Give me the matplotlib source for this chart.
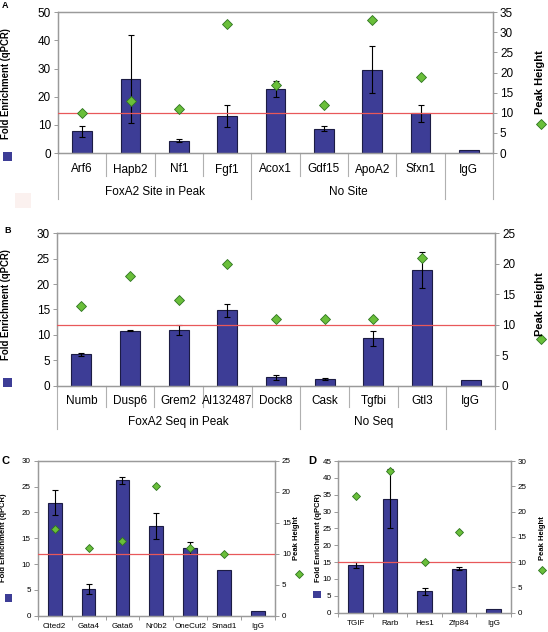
import numpy as np
import matplotlib
matplotlib.use('Agg')
import matplotlib.pyplot as plt
from matplotlib.lines import Line2D
from matplotlib.patches import Rectangle
import matplotlib.transforms as mtransforms

plt.rcParams['font.family'] = ['Liberation Sans', 'DejaVu Sans']

# Painel A
genes_a = ['Arf6', 'Hapb2', 'Nf1', 'Fgf1', 'Acox1', 'Gdf15', 'ApoA2', 'Sfxn1', 'IgG']
fold_a = [7.7, 26.2, 4.4, 13.2, 22.8, 8.7, 29.6, 14.1, 1.0]
err_a = [1.9, 15.6, 0.4, 3.9, 2.9, 0.9, 8.4, 3.1, 0]
peak_a = [10, 13, 11, 32, 17, 12, 33, 19, np.nan]
groups_a = [('FoxA2 Site in Peak', 0, 3), ('No Site', 4, 7)]

# Painel B
genes_b = ['Numb', 'Dusp6', 'Grem2', 'AI132487', 'Dock8', 'Cask', 'Tgfbi', 'Gtl3', 'IgG']
fold_b = [6.2, 10.8, 11.0, 14.8, 1.6, 1.25, 9.3, 22.8, 1.0]
err_b = [0.3, 0.1, 1.0, 1.2, 0.45, 0.2, 1.5, 3.5, 0]
peak_b = [13, 18, 14, 20, 11, 11, 11, 21, np.nan]
groups_b = [('FoxA2 Seq in Peak', 0, 4), ('No Seq', 5, 7)]

# Painel C
genes_c = ['Cited2', 'Gata4', 'Gata6', 'Nr0b2', 'OneCut2', 'Smad1', 'IgG']
fold_c = [21.9, 5.2, 26.2, 17.3, 13.1, 8.9, 1.0]
err_c = [2.4, 0.95, 0.7, 2.5, 1.25, 0, 0]
peak_c = [14, 11, 12, 21, 11, 10, np.nan]

# Painel D
genes_d = ['TGIF', 'Rarb', 'Hes1', 'Zfp84', 'IgG']
fold_d = [14.2, 33.8, 6.3, 13.1, 1.0]
err_d = [0.8, 8.8, 1.1, 0.45, 0]
peak_d = [23, 28, 10, 16, np.nan]

threshold = 10  # linha vermelha (Peak Height)

W, H = 548, 632
BAR = '#3d3d96'
BAR_EDGE = '#1c1c44'
DIA = '#6abf3a'
DIA_EDGE = '#2e7420'
RED = '#e8585a'
GRID = '#9a9a9a'


def fx(px):
    return px / W


def fy(py):
    return 1 - py / H


def make_axes(fig, left, right, top, bottom):
    return fig.add_axes([fx(left), fy(bottom), (right - left) / W, (bottom - top) / H])


def draw_panel(ax, genes, fold, err, peak, ylim_l, ylim_r, ms, fs, bar_w=0.41):
    x = np.arange(len(genes))
    errs = [e if e > 0 else np.nan for e in err]
    ax.bar(x, fold, width=bar_w, color=BAR, edgecolor=BAR_EDGE, linewidth=0.8, zorder=2)
    ax.errorbar(x, fold, yerr=errs, fmt='none', ecolor='black', elinewidth=0.8,
                capsize=2.3, capthick=0.8, zorder=3)
    ax.set_xlim(-0.5, len(genes) - 0.5)
    ax.set_ylim(*ylim_l)
    for s in ax.spines.values():
        s.set_color(GRID)
        s.set_linewidth(0.9)
    ax.tick_params(axis='y', labelsize=fs, length=3, width=0.7, color=GRID, pad=2)

    ax2 = ax.twinx()
    ax2.set_ylim(*ylim_r)
    ax2.axhline(threshold, color=RED, linewidth=0.9, zorder=4)
    ax2.plot(x, peak, linestyle='none', marker='D', markersize=ms, markerfacecolor=DIA,
             markeredgecolor=DIA_EDGE, markeredgewidth=0.6, zorder=5)
    ax2.set_xlim(-0.5, len(genes) - 0.5)
    for s in ax2.spines.values():
        s.set_color(GRID)
        s.set_linewidth(0.9)
    ax2.tick_params(axis='y', labelsize=fs, length=3, width=0.7, color=GRID, pad=2)
    return ax2


def category_axis(ax, genes, groups, short, long_, lab_y, grp_y, fs):
    n = len(genes)
    trans = mtransforms.blended_transform_factory(ax.transData, ax.transAxes)
    ax.set_xticks([])
    long_pos = [-0.5, n - 0.5, n - 1.5] + [g[1] - 0.5 for g in groups]
    for k in range(n + 1):
        b = k - 0.5
        ln = long_ if b in long_pos else short
        ax.plot([b, b], [0, -ln], transform=trans, color='#b0b0b0', linewidth=0.8,
                clip_on=False)
    for i, g in enumerate(genes):
        ax.text(i, -lab_y, g, transform=trans, ha='center', va='center', fontsize=fs)
    for name, a, b in groups:
        ax.text((a + b) / 2, -grp_y, name, transform=trans, ha='center', va='center',
                fontsize=fs)


fig = plt.figure(figsize=(W / 100, H / 100), dpi=100)

# ---------- A ----------
axA = make_axes(fig, 58, 493, 12.3, 153)
axA2 = draw_panel(axA, genes_a, fold_a, err_a, peak_a, (0, 50), (0, 35), 5.5, 8.5)
axA.set_yticks(np.arange(0, 51, 10))
axA2.set_yticks(np.arange(0, 36, 5))
category_axis(axA, genes_a, groups_a, 23 / 140.7, 46 / 140.7, 16.5 / 140.7, 39 / 140.7, 8.5)

# ---------- B ----------
axB = make_axes(fig, 57, 495, 233.3, 385.5)
axB2 = draw_panel(axB, genes_b, fold_b, err_b, peak_b, (0, 30), (0, 25), 5.5, 8.5)
axB.set_yticks(np.arange(0, 31, 5))
axB2.set_yticks(np.arange(0, 26, 5))
category_axis(axB, genes_b, groups_b, 21 / 152.2, 43 / 152.2, 15.5 / 152.2, 36.5 / 152.2, 8.5)

# ---------- C ----------
axC = make_axes(fig, 37.7, 275, 460.7, 615.7)
axC2 = draw_panel(axC, genes_c, fold_c, err_c, peak_c, (0, 30), (0, 25), 3.6, 5.8)
axC.set_yticks(np.arange(0, 31, 5))
axC2.set_yticks(np.arange(0, 26, 5))
axC.set_xticks(np.arange(len(genes_c)))
axC.set_xticklabels(genes_c, fontsize=5.8)
axC.set_xticks(np.arange(len(genes_c) + 1) - 0.5, minor=True)
axC.tick_params(axis='x', which='major', length=0, pad=5)
axC.tick_params(axis='x', which='minor', length=3, width=0.7, color=GRID)

# ---------- D ----------
axD = make_axes(fig, 338.3, 510.7, 461, 612.7)
axD2 = draw_panel(axD, genes_d, fold_d, err_d, peak_d, (0, 45), (0, 30), 3.6, 5.8)
axD.set_yticks(np.arange(0, 46, 5))
axD2.set_yticks(np.arange(0, 31, 5))
axD.set_xticks(np.arange(len(genes_d)))
axD.set_xticklabels(genes_d, fontsize=5.8)
axD.set_xticks(np.arange(len(genes_d) + 1) - 0.5, minor=True)
axD.tick_params(axis='x', which='major', length=0, pad=5)
axD.tick_params(axis='x', which='minor', length=3, width=0.7, color=GRID)

# rótulos dos eixos com marcadores de legenda (estilo Excel)
def side_label(xc, yc, text, fs, key, kx, ky, ksize):
    fig.text(fx(xc), fy(yc), text, rotation=90, ha='center', va='center',
             fontsize=fs, fontweight='bold')
    if key == 'bar':
        fig.add_artist(Rectangle((fx(kx - ksize / 2), fy(ky + ksize / 2)), ksize / W, ksize / H,
                                 transform=fig.transFigure, facecolor=BAR, edgecolor='none'))
    else:
        fig.add_artist(Line2D([fx(kx)], [fy(ky)], marker='D', markersize=ksize,
                              markerfacecolor=DIA, markeredgecolor=DIA_EDGE,
                              markeredgewidth=0.6, transform=fig.transFigure))


side_label(6.5, 84, 'Fold Enrichment (qPCR)', 6.9, 'bar', 7, 156.5, 9)
side_label(540, 82, 'Peak Height', 8, 'dia', 540.5, 124.3, 5.5)
side_label(6.5, 305, 'Fold Enrichment (qPCR)', 6.9, 'bar', 7.5, 382, 9)
side_label(540, 304, 'Peak Height', 8, 'dia', 540.5, 338.7, 5.5)
side_label(4, 538, 'Fold Enrichment (qPCR)', 5.5, 'bar', 8.5, 598, 7.5)
side_label(297, 538, 'Peak Height', 5.5, 'dia', 299, 574, 4.2)
side_label(318.7, 538, 'Fold Enrichment (qPCR)', 5.5, 'bar', 317, 594.5, 7.5)
side_label(542, 538, 'Peak Height', 5.5, 'dia', 542, 570, 4.2)

# artefacto rosado da figura original
fig.add_artist(Rectangle((fx(15), fy(208)), 16 / W, 15 / H, transform=fig.transFigure,
                         facecolor='#fbf1ef', edgecolor='none'))

# letras dos painéis
fig.text(fx(5), fy(5), 'A', fontsize=6.5, fontweight='bold', ha='center', va='center')
fig.text(fx(8), fy(231), 'B', fontsize=6.5, fontweight='bold', ha='center', va='center')
fig.text(fx(6), fy(461), 'C', fontsize=8, fontweight='bold', ha='center', va='center')
fig.text(fx(312), fy(461), 'D', fontsize=8, fontweight='bold', ha='center', va='center')

fig.savefig('out.png', dpi=100)
